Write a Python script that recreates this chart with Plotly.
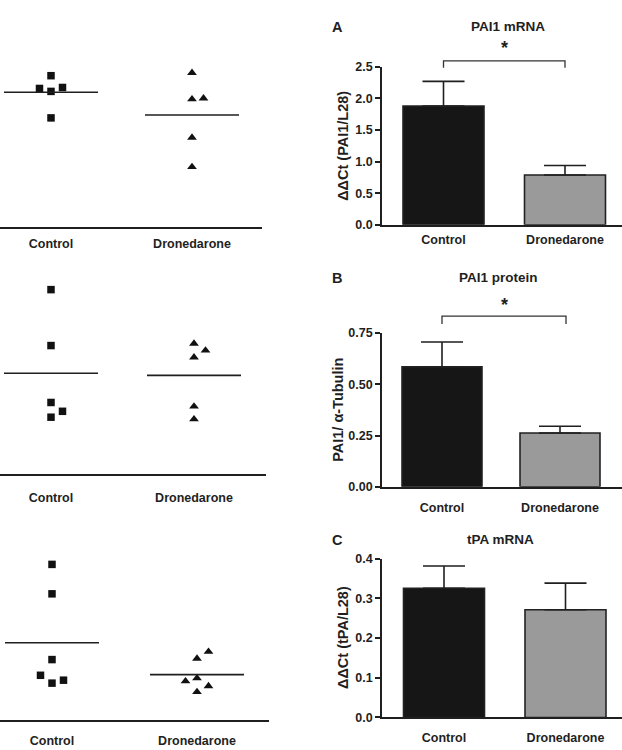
import plotly.graph_objects as go
import numpy as np

# ---------------- data ----------------
categories = ["Control", "Dronedarone"]

# left column: individual values (arbitrary units)
p1_control = [154, 141, 138, 142, 111]
p1_drone = [157, 130, 131, 91, 61]
p2_control = [188, 131, 73, 64, 58]
p2_drone = [133, 126, 119, 69, 56]
p3_control = [159, 129, 62, 46, 38, 41]
p3_drone = [70, 63, 40, 43, 35, 29]

# horizontal jitter slots (-1 left, 0 centre, +1 right)
p1_control_jit = [0, -1, 0, 1, 0]
p1_drone_jit = [0, 0, 1, 0, 0]
p2_control_jit = [0, 0, 0, 1, 0]
p2_drone_jit = [0, 1, 0, 0, 0]
p3_control_jit = [0, 0, 0, -1, 0, 1]
p3_drone_jit = [1, 0, -1, 0, 1, 0]

# right column: bar means and SEM
a_means = [1.88, 0.79]
a_err = [0.39, 0.15]
b_means = [0.585, 0.262]
b_err = [0.12, 0.033]
c_means = [0.325, 0.271]
c_err = [0.056, 0.067]

a_ticks = [0.0, 0.5, 1.0, 1.5, 2.0, 2.5]
b_ticks = [0.0, 0.25, 0.5, 0.75]
c_ticks = [0.0, 0.1, 0.2, 0.3, 0.4]

# ---------------- layout helpers ----------------
W, H = 622, 750
FONT = "Liberation Sans, Arial, sans-serif"
INK = "#1f1f1f"


def px(x):
    return x / W


def py(y):
    return 1 - y / H


fig = go.Figure()
layout = dict(
    width=W, height=H, margin=dict(l=0, r=0, t=0, b=0),
    paper_bgcolor="white", plot_bgcolor="white", showlegend=False,
    font=dict(family=FONT, color=INK, size=12, weight="bold"),
)

# ---- left scatter panels ----
left_panels = [
    # (values ctrl, values drone, jit ctrl, jit drone, axis px y, right px x, ctrl px, drone px, standoff)
    (p1_control, p1_drone, p1_control_jit, p1_drone_jit, 224, 262, 51, 192, 4),
    (p2_control, p2_drone, p2_control_jit, p2_drone_jit, 476, 266, 51, 194, 11),
    (p3_control, p3_drone, p3_control_jit, p3_drone_jit, 727, 269, 52, 197, 8),
]
jit_px = 11.5
half_line_px = 47

for i, (vc, vd, jc, jd, ay, xr, cx, dx, so) in enumerate(left_panels, start=1):
    spacing = dx - cx
    x0 = 1 - cx / spacing
    x1 = 1 + (xr - cx) / spacing
    jit = jit_px / spacing
    hl = half_line_px / spacing
    xa = "x" if i == 1 else f"x{i}"
    ya = "y" if i == 1 else f"y{i}"
    layout["xaxis" if i == 1 else f"xaxis{i}"] = dict(
        domain=[0, px(xr)], range=[x0, x1], anchor=ya,
        showline=True, linecolor=INK, linewidth=1.6, showgrid=False, zeroline=False,
        tickvals=[1, 2], ticktext=categories, ticks="", ticklabelstandoff=so,
        tickfont=dict(size=12.5, family=FONT, color=INK, weight="bold"),
    )
    layout["yaxis" if i == 1 else f"yaxis{i}"] = dict(
        domain=[py(ay), py(ay - 200)], range=[0, 200], anchor=xa,
        visible=False,
    )
    fig.add_trace(go.Scatter(
        x=[1 + j * jit for j in jc], y=vc, xaxis=xa, yaxis=ya, mode="markers",
        marker=dict(symbol="square", size=7.5, color="#111"), cliponaxis=False))
    fig.add_trace(go.Scatter(
        x=[2 + j * jit for j in jd], y=vd, xaxis=xa, yaxis=ya, mode="markers",
        marker=dict(symbol="triangle-up", size=8.5, color="#111"), cliponaxis=False))
    for cpos, vals in ((1, vc), (2, vd)):
        m = float(np.mean(vals))
        fig.add_trace(go.Scatter(
            x=[cpos - hl, cpos + hl], y=[m, m], xaxis=xa, yaxis=ya, mode="lines",
            line=dict(color=INK, width=1.6)))

# ---- right bar panels ----
right_panels = [
    # means, err, ticks, fmt, y0px, ytop px, axis x px, ctrl centre px, drone centre px, bar width px,
    # title, letter, ytitle, bracket, title x px, title y px, ytitle x px, standoff, star y px
    (a_means, a_err, a_ticks, ".1f", 222, 61, 382, 443.5, 565, 81,
     "PAI1 mRNA", "A", "ΔΔCt (PAI1/L28)", True, 508, 20, 343, 2, 38),
    (b_means, b_err, b_ticks, ".2f", 489, 332, 382, 442, 560, 80,
     "PAI1 protein", "B", "PAI1/ α-Tubulin", True, 498, 276, 338, 8, 300),
    (c_means, c_err, c_ticks, ".1f", 724, 562, 382, 444, 565.5, 81,
     "tPA mRNA", "C", "ΔΔCt (tPA/L28)", False, 501, 543, 343, 8, None),
]

annotations = []
shapes = []
for k, (means, err, ticks, fmt, y0, yt, axx, ccx, dcx, bw, title, letter, ytitle, bracket,
        tx, ty, ytx, so, sy) in enumerate(right_panels, start=4):
    spacing = dcx - ccx
    x0 = -(ccx - axx) / spacing
    x1 = 1 + (W - dcx) / spacing
    xa, ya = f"x{k}", f"y{k}"
    layout[f"xaxis{k}"] = dict(
        domain=[px(axx), 1], range=[x0, x1], anchor=ya,
        showline=True, linecolor=INK, linewidth=1.6, showgrid=False, zeroline=False,
        tickvals=[0, 1], ticktext=categories, ticks="", ticklabelstandoff=so,
        tickfont=dict(size=12.5, family=FONT, color=INK, weight="bold"),
    )
    layout[f"yaxis{k}"] = dict(
        domain=[py(y0), py(yt)], range=[0, ticks[-1]], anchor=xa,
        showline=True, linecolor=INK, linewidth=1.6, showgrid=False, zeroline=False,
        tickvals=ticks, tickformat=fmt, ticks="outside", ticklen=5, tickwidth=1.6,
        tickcolor=INK, tickfont=dict(size=12.5, family=FONT, color=INK, weight="bold"),
    )
    fig.add_trace(go.Bar(
        x=[0, 1], y=means, xaxis=xa, yaxis=ya, width=bw / spacing,
        marker=dict(color=["#161616", "#9a9a9a"], line=dict(color="#222", width=1.6)),
        error_y=dict(type="data", array=err, arrayminus=[0, 0], symmetric=False,
                     width=21, thickness=1.6, color=INK),
    ))
    # title and letter
    annotations.append(dict(x=px(tx), y=py(ty), xref="paper", yref="paper",
                            xanchor="center", yanchor="middle",
                            text=title, showarrow=False, font=dict(size=13.5, weight="bold")))
    annotations.append(dict(x=px(337), y=py(ty), xref="paper", yref="paper",
                            xanchor="center", yanchor="middle",
                            text=letter, showarrow=False, font=dict(size=14.5, weight="bold")))
    annotations.append(dict(x=px(ytx), y=py((y0 + yt) / 2), xref="paper", yref="paper",
                            xanchor="center", yanchor="middle",
                            text=ytitle, textangle=-90, showarrow=False,
                            font=dict(size=14.5, weight="bold")))
    if bracket:
        top_px = yt - 6 if k == 4 else yt - 17
        drop = 7 if k == 4 else 8
        right_end = 1 if k == 4 else (566 - ccx) / spacing
        ytop = (y0 - top_px) / (y0 - yt)
        ybot = (y0 - top_px - drop) / (y0 - yt)
        shapes.append(dict(type="path", xref=xa, yref=f"{ya} domain",
                           path=f"M 0,{ybot} L 0,{ytop} L {right_end},{ytop} L {right_end},{ybot}",
                           line=dict(color="#333", width=1.3)))
        annotations.append(dict(x=right_end / 2, y=py(sy), xref=xa, yref="paper",
                                xanchor="center", yanchor="middle", yshift=-4,
                                text="*", showarrow=False,
                                font=dict(size=18, weight="bold")))

layout["annotations"] = annotations
layout["shapes"] = shapes
fig.update_layout(**layout)
fig.write_html("out.html")
